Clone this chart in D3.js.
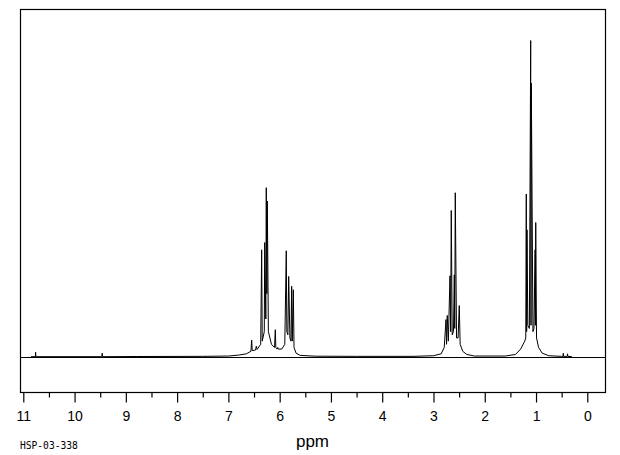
<!DOCTYPE html>
<html>
<head>
<meta charset="utf-8">
<script src="https://cdn.jsdelivr.net/npm/d3@7/dist/d3.min.js"></script>
<style>
  html, body { margin: 0; padding: 0; background: #fff; }
  svg { display: block; }
</style>
</head>
<body>
<svg id="chart" width="620" height="455"></svg>
<script>
// ---- Data ----
// chemical shift (ppm) of each trace vertex
const shifts = [
  10.85, 10.765, 10.76, 10.755, 9.47, 9.46, 9.455, 8.8, 7.5, 7.0, 6.8, 6.65,
  6.56, 6.546, 6.535, 6.47, 6.456, 6.44, 6.37, 6.351, 6.34, 6.30, 6.292, 6.27,
  6.261, 6.25, 6.241, 6.22, 6.16, 6.10, 6.085, 6.075, 6.05, 6.038, 6.03, 5.96,
  5.90, 5.871, 5.86, 5.84, 5.824, 5.80, 5.78, 5.766, 5.755, 5.734, 5.72, 5.68,
  5.6, 5.3, 4.5, 3.4, 3.0, 2.85, 2.79, 2.756, 2.745, 2.731, 2.71, 2.678, 2.665,
  2.653, 2.635, 2.61, 2.594, 2.585, 2.575, 2.55, 2.52, 2.497, 2.48, 2.43, 2.35,
  2.2, 1.6, 1.4, 1.3, 1.22, 1.20, 1.19, 1.183, 1.176, 1.16, 1.13, 1.104, 1.098,
  1.092, 1.06, 1.04, 1.018, 1.012, 1.006, 0.99, 0.95, 0.88, 0.75, 0.5, 0.472,
  0.468, 0.464, 0.39, 0.385, 0.38, 0.3
];
// intensity (arbitrary units, tallest line = 100) of each trace vertex
const intensities = [
  0.1, 0.1, 1.5, 0.1, 0.1, 1.2, 0.1, 0.15, 0.2, 0.3, 0.6, 1.0,
  1.8, 5.3, 2.0, 2.2, 3.4, 2.4, 4.0, 33.8, 5.0, 8.0, 36.1, 12.0,
  53.4, 20.0, 49.2, 8.0, 4.0, 3.0, 8.6, 3.0, 2.5, 3.0, 2.5, 2.5,
  4.0, 33.5, 8.0, 7.0, 25.4, 6.0, 5.0, 22.3, 5.0, 21.2, 3.0, 1.2,
  0.5, 0.25, 0.2, 0.2, 0.4, 1.0, 3.0, 11.8, 4.0, 13.1, 5.0, 25.6, 8.0,
  46.2, 7.0, 8.0, 25.9, 9.0, 51.8, 6.0, 6.0, 16.2, 4.0, 1.8, 0.8,
  0.3, 0.3, 0.8, 2.5, 5.0, 6.0, 51.4, 8.0, 40.1, 10.0, 9.0, 99.8, 10.0,
  86.4, 8.0, 9.0, 33.8, 10.0, 42.4, 6.0, 3.0, 1.2, 0.4, 0.2, 0.2,
  1.2, 0.2, 0.2, 1.0, 0.2, 0.1
];
const majorTicks = [11, 10, 9, 8, 7, 6, 5, 4, 3, 2, 1, 0];
const minorTicks = [10.5, 9.5, 8.5, 7.5, 6.5, 5.5, 4.5, 3.5, 2.5, 1.5, 0.5];
const xTitle = "ppm";
const sampleId = "HSP-03-338";

// ---- Layout ----
const svg = d3.select("#chart");
const frame = { left: 20.5, right: 605.5, top: 9.5, bottom: 392.5 };

const x = d3.scaleLinear().domain([11, 0]).range([23.3, 587.3]);
const y = d3.scaleLinear().domain([-11.2, 109.6]).range([frame.bottom, frame.top]);

// frame
svg.append("rect")
  .attr("x", frame.left).attr("y", frame.top)
  .attr("width", frame.right - frame.left)
  .attr("height", frame.bottom - frame.top)
  .attr("fill", "none").attr("stroke", "#000").attr("stroke-width", 1.2);

// zero line
svg.append("line")
  .attr("x1", frame.left).attr("x2", frame.right)
  .attr("y1", Math.round(y(0)) + 0.5).attr("y2", Math.round(y(0)) + 0.5)
  .attr("stroke", "#000").attr("stroke-width", 1);

// spectrum trace
const pts = shifts.map((s, i) => [s, intensities[i]]);
const line = d3.line().x(d => x(d[0])).y(d => y(d[1]));
svg.append("path")
  .datum(pts)
  .attr("d", line)
  .attr("fill", "none")
  .attr("stroke", "#000")
  .attr("stroke-width", 1)
  .attr("stroke-linejoin", "miter");

// axis: major ticks
const axisMajor = d3.axisBottom(x).tickValues(majorTicks).tickSize(10).tickSizeOuter(0)
  .tickFormat(d3.format("d"));
const gMaj = svg.append("g").attr("transform", `translate(0,${frame.bottom})`).call(axisMajor);
gMaj.select(".domain").remove();
gMaj.selectAll(".tick line").attr("stroke", "#000").attr("stroke-width", 1.2);
gMaj.selectAll(".tick text")
  .attr("y", 28).attr("dy", 0)
  .attr("font-family", "'Liberation Sans', Arial, sans-serif")
  .attr("font-size", 14).attr("fill", "#000");

// axis: minor ticks
const axisMinor = d3.axisBottom(x).tickValues(minorTicks).tickSize(5).tickSizeOuter(0).tickFormat("");
const gMin = svg.append("g").attr("transform", `translate(0,${frame.bottom})`).call(axisMinor);
gMin.select(".domain").remove();
gMin.selectAll(".tick line").attr("stroke", "#000").attr("stroke-width", 1.2);

// axis title
svg.append("text")
  .attr("x", 312.5).attr("y", 447)
  .attr("text-anchor", "middle")
  .attr("font-family", "'Liberation Sans', Arial, sans-serif")
  .attr("font-size", 17).attr("fill", "#000")
  .text(xTitle);

// sample id
svg.append("text")
  .attr("x", 20).attr("y", 448.5)
  .attr("font-family", "'DejaVu Sans Mono', monospace")
  .attr("font-size", 9.6).attr("fill", "#000")
  .text(sampleId);
</script>
</body>
</html>
